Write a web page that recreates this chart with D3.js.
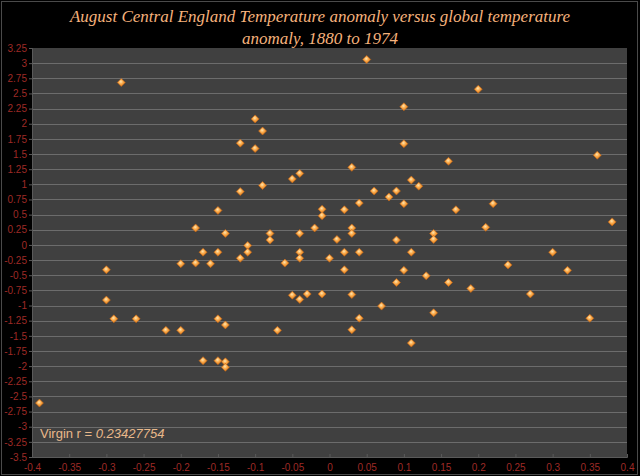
<!DOCTYPE html>
<html>
<head>
<meta charset="utf-8">
<script src="https://cdn.jsdelivr.net/npm/d3@7"></script>
<style>
  body { margin: 0; background: #000; }
  svg { display: block; }
</style>
</head>
<body>
<div id="chart"></div>
<script>
// global temperature anomaly (x) vs August CET anomaly (y)
var globalAnom = [
  -0.28, -0.10, -0.09, -0.12, -0.10, -0.04, -0.05, -0.09, -0.12, -0.15,
  -0.01, -0.01, -0.18, -0.14, -0.08, -0.08, -0.04, -0.02, -0.11, -0.11,
  -0.17, -0.15, -0.04, -0.12, -0.20, -0.18, -0.16, -0.06, -0.04, 0.00,
  -0.30, -0.30, -0.29, -0.26, -0.22, -0.20, -0.15, -0.14, -0.07, -0.05,
  -0.04, -0.03, -0.01, -0.17, -0.15, -0.14, -0.14, -0.39,
  0.05, 0.20, 0.10, 0.10, 0.36, 0.16, 0.03, 0.11, 0.12, 0.06,
  0.09, 0.08, 0.04, 0.10, 0.22, 0.02, 0.17, 0.21, 0.38, 0.03,
  0.03, 0.01, 0.09, 0.14, 0.14, 0.02, 0.04, 0.11, 0.30,
  0.02, 0.10, 0.13, 0.24, 0.32, 0.09, 0.16, 0.19, 0.03, 0.27,
  0.07, 0.14, 0.04, 0.35, 0.03, 0.11
];
var cetAnom = [
  2.68, 2.08, 1.88, 1.68, 1.59, 1.18, 1.09, 0.98, 0.88, 0.57,
  0.59, 0.48, 0.28, 0.19, 0.19, 0.08, 0.19, 0.28, -0.01, -0.12,
  -0.12, -0.12, -0.12, -0.22, -0.31, -0.30, -0.31, -0.30, -0.22, -0.22,
  -0.41, -0.91, -1.22, -1.22, -1.41, -1.41, -1.22, -1.32, -1.41, -0.83,
  -0.90, -0.81, -0.81, -1.91, -1.91, -1.93, -2.02, -2.61,
  3.06, 2.57, 2.28, 1.67, 1.48, 1.38, 1.28, 1.07, 0.97, 0.89,
  0.89, 0.79, 0.69, 0.68, 0.68, 0.58, 0.58, 0.29, 0.38, 0.28,
  0.19, 0.09, 0.08, 0.19, 0.09, -0.12, -0.12, -0.12, -0.12,
  -0.41, -0.42, -0.51, -0.33, -0.42, -0.62, -0.62, -0.72, -0.82, -0.81,
  -1.01, -1.12, -1.21, -1.21, -1.40, -1.62
];
var xTicks = [-0.4, -0.35, -0.3, -0.25, -0.2, -0.15, -0.1, -0.05, 0,
              0.05, 0.1, 0.15, 0.2, 0.25, 0.3, 0.35, 0.4];
var yTicks = [3.25, 3, 2.75, 2.5, 2.25, 2, 1.75, 1.5, 1.25, 1, 0.75, 0.5, 0.25, 0,
              -0.25, -0.5, -0.75, -1, -1.25, -1.5, -1.75, -2, -2.25, -2.5, -2.75,
              -3, -3.25, -3.5];
var titleLines = ["August Central England Temperature anomaly versus global temperature",
                  "anomaly, 1880 to 1974"];

var width = 640, height = 476;
var plotLeft = 32, plotRight = 627, plotTop = 48, plotBottom = 457;

var points = globalAnom.map(function(d, i) { return {x: d, y: cetAnom[i]}; });

var svg = d3.select("#chart").append("svg")
    .attr("width", width)
    .attr("height", height);

var defs = svg.append("defs");
var grad = defs.append("radialGradient")
    .attr("id", "dot")
    .attr("cx", "45%").attr("cy", "40%").attr("r", "60%");
grad.append("stop").attr("offset", "0%").attr("stop-color", "#ffe6b0");
grad.append("stop").attr("offset", "45%").attr("stop-color", "#fbab4c");
grad.append("stop").attr("offset", "100%").attr("stop-color", "#e07a14");

svg.append("rect")
    .attr("width", width).attr("height", height)
    .attr("fill", "#000");
svg.append("rect")
    .attr("x", 1.5).attr("y", 1.5)
    .attr("width", 636).attr("height", 473)
    .attr("fill", "none")
    .attr("stroke", "#4a4a4a");

var x = d3.scaleLinear().domain([-0.4, 0.4]).range([plotLeft, plotRight]);
var y = d3.scaleLinear().domain([-3.5, 3.25]).range([plotBottom, plotTop]);

// plot area
svg.append("rect")
    .attr("x", plotLeft).attr("y", plotTop)
    .attr("width", plotRight - plotLeft).attr("height", plotBottom - plotTop)
    .attr("fill", "#404040");

// horizontal gridlines
svg.append("g")
    .selectAll("line")
    .data(yTicks.filter(function(d) { return d < 3.25 && d > -3.5; }))
    .join("line")
    .attr("x1", plotLeft).attr("x2", plotRight)
    .attr("y1", function(d) { return Math.round(y(d)) + 0.5; })
    .attr("y2", function(d) { return Math.round(y(d)) + 0.5; })
    .attr("stroke", "#6c6c6c")
    .attr("stroke-width", 1);

// axes
var fmt = function(d) { return String(+d.toFixed(2)); };

var yAxis = svg.append("g")
    .attr("transform", "translate(" + plotLeft + ",0)")
    .call(d3.axisLeft(y).tickValues(yTicks).tickFormat(fmt).tickSize(3).tickPadding(2));
yAxis.select(".domain").attr("stroke", "#5a5a5a");
yAxis.selectAll(".tick line").attr("stroke", "#5a5a5a");
yAxis.selectAll("text")
    .attr("fill", "#9e2a26")
    .style("font-family", "Arial, 'Liberation Sans', sans-serif")
    .style("font-size", "10px");

var xAxis = svg.append("g")
    .attr("transform", "translate(0," + plotBottom + ")")
    .call(d3.axisBottom(x).tickValues(xTicks).tickFormat(fmt).tickSize(-3).tickPadding(7));
xAxis.select(".domain").attr("stroke", "#5a5a5a");
xAxis.selectAll(".tick line").attr("stroke", "#5a5a5a");
xAxis.selectAll("text")
    .attr("fill", "#9e2a26")
    .style("font-family", "Arial, 'Liberation Sans', sans-serif")
    .style("font-size", "10px");

// markers
var diamond = "M0,-4L4,0L0,4L-4,0Z";
svg.append("g")
    .selectAll("path")
    .data(points)
    .join("path")
    .attr("d", diamond)
    .attr("transform", function(d) { return "translate(" + x(d.x) + "," + y(d.y) + ")"; })
    .attr("fill", "url(#dot)")
    .attr("stroke", "#c4661a")
    .attr("stroke-width", 0.6);

// title
svg.append("g")
    .selectAll("text")
    .data(titleLines)
    .join("text")
    .attr("x", width / 2)
    .attr("y", function(d, i) { return 22 + i * 22; })
    .attr("text-anchor", "middle")
    .attr("fill", "#f6b27c")
    .style("font-family", "'Liberation Serif', 'DejaVu Serif', serif")
    .style("font-style", "italic")
    .style("font-size", "17px")
    .text(function(d) { return d; });

// correlation note
var note = svg.append("text")
    .attr("x", 40)
    .attr("y", 438)
    .attr("fill", "#e9b88a")
    .style("font-family", "Arial, 'Liberation Sans', sans-serif")
    .style("font-size", "13px");
note.append("tspan").text("Virgin r = ");
note.append("tspan").style("font-style", "italic").text("0.23427754");
</script>
</body>
</html>
